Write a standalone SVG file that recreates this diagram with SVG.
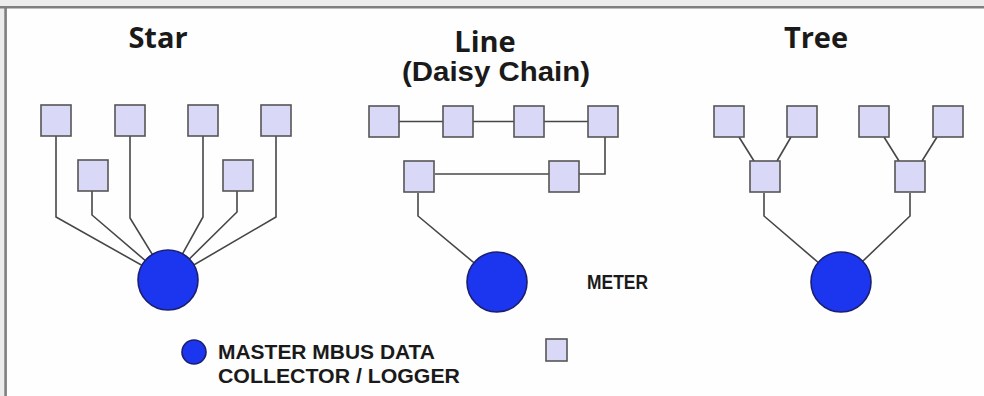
<svg xmlns="http://www.w3.org/2000/svg" width="984" height="396" viewBox="0 0 984 396">
  <style>
    .title { font-family: "Open Sans", "DejaVu Sans", sans-serif; font-weight: 700; font-size: 29px; fill: #1a1a1a; text-anchor: middle; }
    .sub { font-family: "Liberation Sans", Arial, sans-serif; font-weight: 700; font-size: 27px; fill: #1a1a1a; }
    .legend { font-family: "Liberation Sans", Arial, sans-serif; font-weight: 700; font-size: 20px; fill: #1a1a1a; }
    .meter { fill: #d9d9f7; stroke: #555; stroke-width: 1.6; }
    .master { fill: #1c35ee; stroke: #1b1f6e; stroke-width: 1.6; }
    .wire { fill: none; stroke: #474747; stroke-width: 1.6; }
  </style>

  <!-- page background and frame -->
  <rect x="0" y="0" width="984" height="396" fill="#ececec"/>
  <rect x="5.5" y="7.5" width="980" height="390" fill="#fefefe"/>
  <line x1="0" y1="7.3" x2="984" y2="7.3" stroke="#7f7f7f" stroke-width="2.6"/>
  <line x1="5.6" y1="7" x2="5.6" y2="396" stroke="#7f7f7f" stroke-width="2.6"/>

  <!-- titles -->
  <text class="title" x="158" y="48">Star</text>
  <text class="title" x="485" y="52">Line</text>
  <text class="sub" x="402" y="81" textLength="188" lengthAdjust="spacingAndGlyphs">(Daisy Chain)</text>
  <text class="title" x="816" y="48">Tree</text>

  <!-- connectors -->
  <g id="connectors">
    <!-- star -->
    <polyline class="wire" points="56,136 56,217 168,280"/>
    <polyline class="wire" points="92,191 92,215 168,280"/>
    <polyline class="wire" points="130,136 130,218 168,280"/>
    <polyline class="wire" points="203,136 203,217 168,280"/>
    <polyline class="wire" points="237,191 237,212 168,280"/>
    <polyline class="wire" points="276,136 276,217 168,280"/>
    <!-- line / daisy chain -->
    <line class="wire" x1="399" y1="121.5" x2="443" y2="121.5"/>
    <line class="wire" x1="473" y1="121.5" x2="514" y2="121.5"/>
    <line class="wire" x1="544" y1="121.5" x2="588" y2="121.5"/>
    <polyline class="wire" points="605,137 605,174 579,174"/>
    <line class="wire" x1="435" y1="174" x2="549" y2="174"/>
    <polyline class="wire" points="418,193 418,216 497,282"/>
    <!-- tree -->
    <line class="wire" x1="739" y1="137" x2="754" y2="161"/>
    <line class="wire" x1="791" y1="137" x2="777" y2="161"/>
    <line class="wire" x1="884" y1="137" x2="899" y2="161"/>
    <line class="wire" x1="937" y1="137" x2="922" y2="161"/>
    <polyline class="wire" points="764,193 764,216 841,282"/>
    <polyline class="wire" points="910,193 910,216 841,282"/>
  </g>

  <!-- star nodes -->
  <g id="star-m1"><rect class="meter" x="41" y="105" width="30" height="31"/></g>
  <g id="star-m2"><rect class="meter" x="115" y="105" width="30" height="31"/></g>
  <g id="star-m3"><rect class="meter" x="188" y="105" width="30" height="31"/></g>
  <g id="star-m4"><rect class="meter" x="261" y="105" width="30" height="31"/></g>
  <g id="star-m5"><rect class="meter" x="78" y="160" width="30" height="31"/></g>
  <g id="star-m6"><rect class="meter" x="223" y="160" width="30" height="31"/></g>
  <g id="star-master"><circle class="master" cx="168" cy="280" r="30"/></g>

  <!-- line nodes -->
  <g id="line-m1"><rect class="meter" x="369" y="106" width="30" height="31"/></g>
  <g id="line-m2"><rect class="meter" x="443" y="106" width="30" height="31"/></g>
  <g id="line-m3"><rect class="meter" x="514" y="106" width="30" height="31"/></g>
  <g id="line-m4"><rect class="meter" x="588" y="106" width="30" height="31"/></g>
  <g id="line-m5"><rect class="meter" x="549" y="161" width="30" height="31"/></g>
  <g id="line-m6"><rect class="meter" x="404" y="161" width="30" height="31"/></g>
  <g id="line-master"><circle class="master" cx="497" cy="282" r="30"/></g>

  <!-- tree nodes -->
  <g id="tree-m1"><rect class="meter" x="714" y="106" width="30" height="31"/></g>
  <g id="tree-m2"><rect class="meter" x="787" y="106" width="30" height="31"/></g>
  <g id="tree-m3"><rect class="meter" x="859" y="106" width="30" height="31"/></g>
  <g id="tree-m4"><rect class="meter" x="933" y="106" width="30" height="31"/></g>
  <g id="tree-m5"><rect class="meter" x="750" y="161" width="30" height="31"/></g>
  <g id="tree-m6"><rect class="meter" x="895" y="161" width="30" height="31"/></g>
  <g id="tree-master"><circle class="master" cx="841" cy="282" r="30"/></g>

  <!-- legend -->
  <g id="legend-master">
    <circle class="master" cx="194" cy="352" r="12"/>
    <text class="legend" x="218" y="359" textLength="217" lengthAdjust="spacingAndGlyphs">MASTER MBUS DATA</text>
    <text class="legend" x="218" y="383" textLength="242" lengthAdjust="spacingAndGlyphs">COLLECTOR / LOGGER</text>
  </g>
  <g id="legend-meter">
    <rect class="meter" x="546" y="339" width="21" height="22"/>
    <text class="legend" x="587" y="289" font-size="17" textLength="61" lengthAdjust="spacingAndGlyphs">METER</text>
  </g>
</svg>
